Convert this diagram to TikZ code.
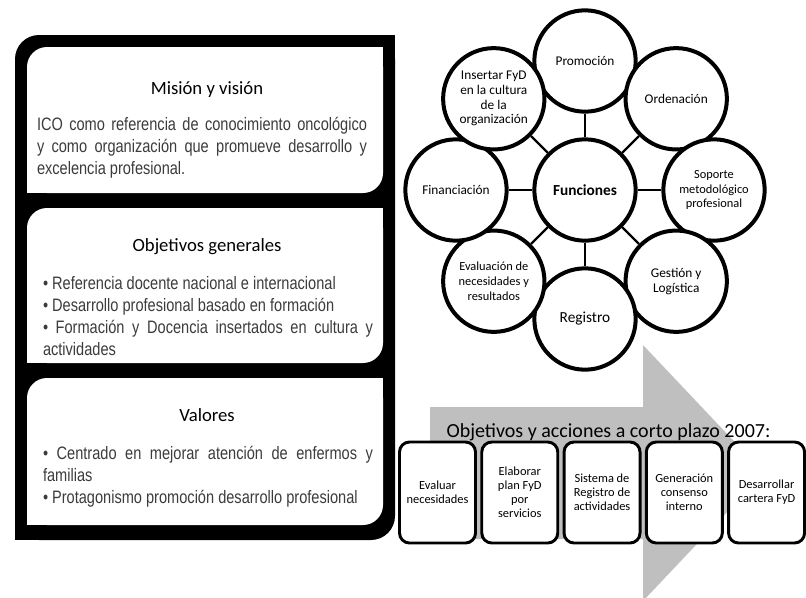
\documentclass[tikz,border=0pt]{standalone}
\usepackage{fontspec}
\setmainfont{Carlito}
\newfontfamily\bodyfont[FakeStretch=0.81]{Liberation Sans}
\usetikzlibrary{positioning,calc}
\setlength{\parindent}{0pt}
\definecolor{arrowgrey}{RGB}{191,191,191}
\definecolor{textgrey}{RGB}{60,60,60}
\tikzset{ptitle/.style={anchor=base,inner sep=0pt,font=\fontsize{14}{17}\selectfont},
         pbody/.style={anchor=north,inner sep=0pt,text width=247.5pt,align=justify,
                       text=textgrey,font=\bodyfont\fontsize{13.5}{16.5}\selectfont},
         func/.style={circle,draw,line width=3pt,fill=white,minimum size=76pt,
                      inner sep=0pt,align=center,font=\fontsize{10}{11}\selectfont},
         hub/.style={func,font=\bfseries\fontsize{11.5}{13}\selectfont},
         spoke/.style={line width=1.8pt},
         actbox/.style={draw,rounded corners=7.5pt,line width=2.2pt,fill=white,
                        minimum width=57pt,minimum height=75.75pt,inner sep=1pt,
                        align=center,font=\fontsize{9.3}{10.5}\selectfont}}

\begin{document}
\begin{tikzpicture}[x=0.75pt,y=-0.75pt]
\clip (0,0) rectangle (806,597);
\fill[white] (0,0) rectangle (806,597);
% left panel
\fill[rounded corners=18pt] (15,35) rectangle (395,540);
\fill (365,35) rectangle (395,65);
\fill (15,510) rectangle (45,540);
\foreach \t/\b in {47/193,208/363,378/525}{
  \fill[white,rounded corners=15pt] (27,\t) rectangle (383,\b);
  \fill[white] (353,\t) rectangle (383,\t+30);
  \fill[white] (27,\b-30) rectangle (57,\b);
}
\node[ptitle] (mis) at (207,94) {Misión y visión};
\node[pbody] (misb) at (202,117) {ICO como referencia de conocimiento oncológico\linebreak
  y como organización que promueve desarrollo y\linebreak excelencia profesional.};
\node[ptitle] (obj) at (207,251) {Objetivos generales};
\node[pbody] (objb) at (208,276) {• Referencia docente nacional e internacional\par
  • Desarrollo profesional basado en formación\par
  • Formación y Docencia insertados en cultura y\linebreak actividades};
\node[ptitle] (val) at (207,421) {Valores};
\node[pbody] (valb) at (208,446) {• Centrado en mejorar atención de enfermos y\linebreak familias\par
  • Protagonismo promoción desarrollo profesional};
% big arrow
\fill[arrowgrey] (430,407) -- (643,407) -- (643,345) -- (764,473) -- (643,601)
  -- (643,539) -- (430,539) -- cycle;
% functions
\node[hub] (fun) at (585,190) {Funciones};
\foreach \n/\a/\s/\t in {pro/-90/10/Promoción, ord/-45/10/Ordenación,
    sop/0/9.3/{Soporte\\metodológico\\profesional}, ges/45/10/{Gestión y\\Logística},
    reg/90/11.5/Registro, eva/135/9.3/{Evaluación de\\necesidades y\\resultados},
    fin/180/10/Financiación, ins/-135/10/{Insertar FyD\\en la cultura\\de la\\organización}}
  \node[func,font=\fontsize{\s}{11}\selectfont] (\n) at ($(fun)+(\a:129)$) {\t};
\foreach \n in {pro,ord,sop,ges,reg,eva,fin,ins}
  \draw[spoke] (fun) -- (\n);
% short term actions
\node[anchor=base,inner sep=0pt,font=\fontsize{15}{18}\selectfont] (plazo) at (608.5,437)
  {Objetivos y acciones a corto plazo 2007:};
\node[actbox] (evn) at (437.5,492.5) {Evaluar\\necesidades};
\node[actbox,right=2.5pt of evn] (ela) {Elaborar\\plan FyD\\por\\servicios};
\node[actbox,right=2.5pt of ela] (sis) {Sistema de\\Registro de\\actividades};
\node[actbox,right=2.5pt of sis] (gen) {Generación\\consenso\\interno};
\node[actbox,right=2.5pt of gen] (car) {Desarrollar\\cartera FyD};
\end{tikzpicture}
\end{document}
